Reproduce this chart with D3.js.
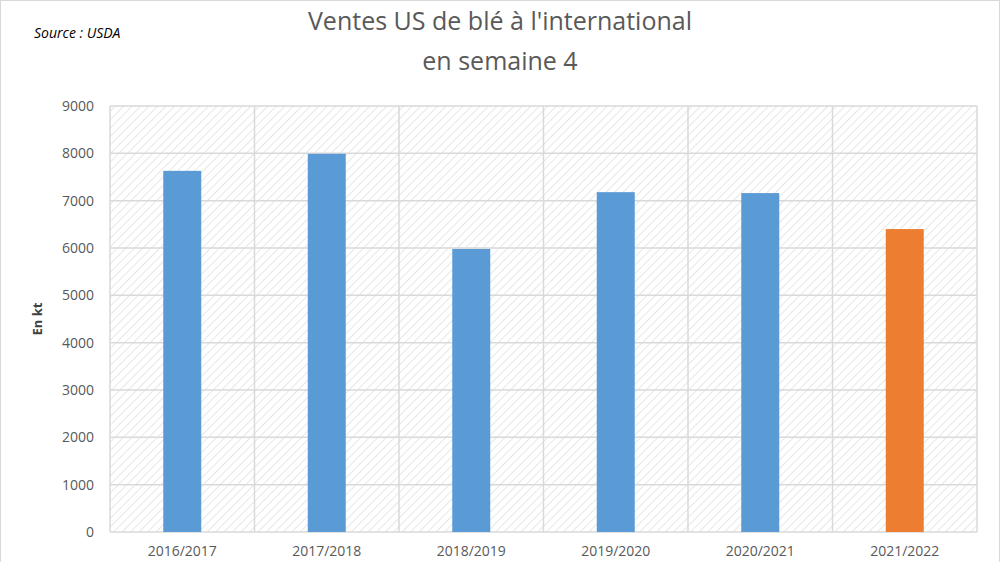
<!DOCTYPE html><html><head><meta charset="utf-8"><script src="https://cdn.jsdelivr.net/npm/d3@7"></script>
<style>body{margin:0;background:#fff}text{font-family:"Open Sans",sans-serif}</style></head><body><svg id="c" width="1000" height="562"></svg>
<script>
const categories=["2016/2017","2017/2018","2018/2019","2019/2020","2020/2021","2021/2022"];
const values=[7630,7990,5980,7180,7160,6400];
const colors=["#5b9bd5","#5b9bd5","#5b9bd5","#5b9bd5","#5b9bd5","#ed7d31"];
const yTicks=[0,1000,2000,3000,4000,5000,6000,7000,8000,9000];
const svg=d3.select("#c");
const L=110,R=977,T=106,B=532;
const defs=svg.append("defs");
const p=defs.append("pattern").attr("id","h").attr("width",6).attr("height",6).attr("patternUnits","userSpaceOnUse").attr("patternTransform","rotate(45)");
p.append("line").attr("x1",0).attr("y1",0).attr("x2",0).attr("y2",6).attr("stroke","#cfcfcf").attr("stroke-width",1);
svg.append("rect").attr("x",0.5).attr("y",0.5).attr("width",999).attr("height",600).attr("fill","none").attr("stroke","#d9d9d9");
const x=d3.scaleBand().domain(categories).range([L,R]).paddingInner(0).paddingOuter(0);
const y=d3.scaleLinear().domain([0,9000]).range([B,T]);
svg.append("rect").attr("x",L).attr("y",T).attr("width",R-L).attr("height",B-T).attr("fill","url(#h)");
svg.append("g").selectAll("line").data(yTicks).join("line").attr("x1",L).attr("x2",R).attr("y1",d=>y(d)).attr("y2",d=>y(d)).attr("stroke","#d9d9d9").attr("stroke-width",1.5);
svg.append("g").selectAll("line").data(categories.concat([null])).join("line").attr("x1",(d,i)=>L+i*x.bandwidth()).attr("x2",(d,i)=>L+i*x.bandwidth()).attr("y1",T).attr("y2",B).attr("stroke","#d9d9d9").attr("stroke-width",1.5);
const bw=38;
svg.append("g").selectAll("rect").data(values).join("rect").attr("x",(d,i)=>x(categories[i])+x.bandwidth()/2-bw/2).attr("width",bw).attr("y",d=>y(d)).attr("height",d=>B-y(d)).attr("fill",(d,i)=>colors[i]);
svg.append("g").selectAll("text").data(yTicks).join("text").attr("x",L-16).attr("y",d=>y(d)+5).attr("text-anchor","end").attr("font-size",14).attr("fill","#595959").text(d=>d);
svg.append("g").selectAll("text").data(categories).join("text").attr("x",d=>x(d)+x.bandwidth()/2).attr("y",B+24).attr("text-anchor","middle").attr("font-size",14).attr("fill","#595959").text(d=>d);
svg.append("text").attr("transform","translate(42,319) rotate(-90)").attr("text-anchor","middle").attr("font-size",13).attr("font-weight","bold").attr("fill","#404040").text("En kt");
svg.append("text").attr("x",500).attr("y",30).attr("text-anchor","middle").attr("font-size",25).attr("fill","#595959").text("Ventes US de blé à l'international");
svg.append("text").attr("x",500).attr("y",70).attr("text-anchor","middle").attr("font-size",25).attr("fill","#595959").text("en semaine 4");
svg.append("text").attr("x",34).attr("y",38).attr("font-size",14).attr("font-style","italic").attr("fill","#000").text("Source : USDA");
</script></body></html>
